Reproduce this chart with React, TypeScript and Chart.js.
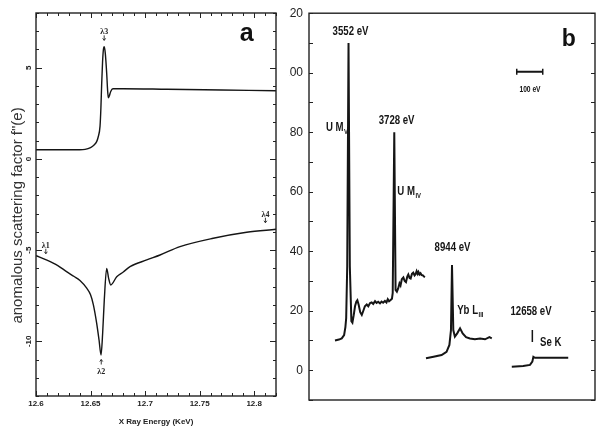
import React, { useEffect, useRef } from "react";
import { Chart, registerables } from "chart.js";

Chart.register(...registerables);

// ---------------- Panel a data ----------------
const A_X_TICKS = [12.6, 12.65, 12.7, 12.75, 12.8];
const A_X_TICK_LABELS = ["12.6", "12.65", "12.7", "12.75", "12.8"];
const A_Y_TICKS = [5, 0, -5, -10];
const A_Y_TICK_LABELS = ["5", "0", "-5", "-10"];
const A_TITLE_Y = 'anomalous scattering factor f"(e)';
const A_TITLE_X = "X Ray Energy (KeV)";

// f'' (upper curve)
const F2_X = [12.6, 12.62, 12.64, 12.645, 12.65, 12.653, 12.6556, 12.657, 12.6587, 12.6595, 12.6602, 12.661, 12.6618, 12.6626, 12.6635, 12.6648, 12.6656, 12.6663, 12.6672, 12.6685, 12.6705, 12.68, 12.72, 12.77, 12.82];
const F2_Y = [0.5, 0.5, 0.5, 0.52, 0.62, 0.75, 0.95, 1.2, 1.8, 2.8, 4.1, 5.3, 6.0, 6.15, 5.8, 4.7, 3.8, 3.35, 3.45, 3.7, 3.85, 3.85, 3.82, 3.78, 3.74];

// f' (lower curve)
const F1_X = [12.6, 12.61, 12.62, 12.628, 12.635, 12.6403, 12.6465, 12.65, 12.6526, 12.6556, 12.6578, 12.6596, 12.6611, 12.6626, 12.6648, 12.6666, 12.6685, 12.674, 12.68, 12.6862, 12.7015, 12.7137, 12.732, 12.7625, 12.7931, 12.82];
const F1_Y = [-5.31, -5.55, -5.85, -6.18, -6.45, -6.67, -7.09, -7.45, -8.0, -9.0, -9.93, -10.75, -9.56, -7.73, -6.0, -6.55, -6.91, -6.46, -6.2, -5.91, -5.54, -5.27, -4.81, -4.35, -4.02, -3.86];

const LAMBDA_TEXT = ["λ1", "λ2", "λ3", "λ4"];
const LAMBDA_X = [12.609, 12.6598, 12.6625, 12.8103];
const LAMBDA_Y = [-5.2, -11.0, 6.5, -3.5];
const LAMBDA_UP = [false, true, false, false];
const A_PANEL_LETTER = "a";

// ---------------- Panel b data ----------------
const B_Y_TICKS = [0, 20, 40, 60, 80, 100, 120];
const B_Y_TICK_LABELS = ["0", "20", "40", "60", "80", "100", "120"];

// U M_V / U M_IV spectrum
const SEG_U_X = [100, 115, 126, 135, 140, 143, 147, 152, 157, 163, 167, 172, 177, 182, 186, 191, 197, 203, 209, 215, 222, 228, 235, 241, 247, 254, 260, 266, 273, 279, 285, 292, 298, 303, 308, 314, 319, 322, 328, 333, 338, 343, 348, 352, 357, 363, 368, 373, 378, 382, 387, 391, 396, 401, 406, 410, 414, 418, 421, 425, 429, 433, 438, 442, 446];
const SEG_U_Y = [10.0, 10.3, 10.7, 11.8, 14.5, 17.5, 35, 110, 35, 16.5, 16.0, 18.5, 21.5, 23.0, 23.5, 22.0, 19.5, 18.6, 20.0, 21.5, 22.1, 21.5, 22.6, 22.8, 22.3, 23.2, 22.6, 23.0, 22.5, 23.1, 22.7, 23.3, 22.8, 23.9, 23.2, 23.6, 24.0, 26, 80, 27, 26.4, 27.5, 29.2, 28.5, 30.6, 31.2, 30.0, 29.6, 31.5, 32.2, 31.0, 30.8, 32.4, 32.8, 31.9, 32.3, 33.3, 32.4, 33.0, 32.2, 32.6, 32.0, 31.9, 31.5, 31.3];

// Yb L_III spectrum
const SEG_YB_X = [450, 479, 510, 529, 540, 546, 550, 555, 561, 570, 581, 591, 604, 619, 638, 658, 677, 694, 703];
const SEG_YB_Y = [4.0, 4.55, 5.1, 6.2, 8.5, 13.5, 35.4, 13.5, 11.3, 12.4, 14.1, 12.4, 11.1, 10.7, 10.4, 10.7, 10.4, 11.1, 10.7];

// Se K edge
const SEG_SE_X = [780, 824, 850, 859, 863, 869, 997];
const SEG_SE_Y = [1.2, 1.4, 1.8, 2.9, 4.5, 4.2, 4.2];

// 12658 eV marker
const SE_MARK_X = [859, 859];
const SE_MARK_Y = [9.5, 13.5];

// 100 eV scale bar
const BAR_X = [799, 899];
const BAR_Y = [100.3, 100.3];

const B_TEXT = ["3552 eV", "3728 eV", "8944 eV", "12658 eV"];
const B_TEXT_X = [159.6, 337, 552, 854];
const B_TEXT_Y = [112.6, 82.7, 40.1, 18.6];
const BAR_TEXT = "100 eV";
const BAR_TEXT_X = 850;
const BAR_TEXT_Y = 93.6;
const B_SUB_MAIN = ["U M", "U M", "Yb L", "Se K"];
const B_SUB_SUB = ["V", "IV", "III", ""];
const B_SUB_X = [65, 339.6, 570, 888.5];
const B_SUB_Y = [80.4, 58.9, 18.9, 8];
const B_PANEL_LETTER = "b";

const pts = (xs: number[], ys: number[]) => xs.map((x, i) => ({ x, y: ys[i] }));

const INK = "#151515";
const SANS = "Arial, 'Liberation Sans', sans-serif";
const SQUEEZE = 0.74;

function hline(ctx: CanvasRenderingContext2D, x1: number, y1: number, x2: number, y2: number) {
  ctx.beginPath();
  ctx.moveTo(x1, y1);
  ctx.lineTo(x2, y2);
  ctx.stroke();
}

// draws text horizontally condensed, anchored at (x, y)
function squeezed(ctx: CanvasRenderingContext2D, text: string, x: number, y: number) {
  ctx.save();
  ctx.translate(x, y);
  ctx.scale(SQUEEZE, 1);
  ctx.fillText(text, 0, 0);
  ctx.restore();
}

const panelAPlugin = {
  id: "panelA",
  afterDraw(chart: any) {
    const { ctx, chartArea: ca, scales } = chart;
    const xs = scales.x;
    const ys = scales.y;
    ctx.save();
    ctx.strokeStyle = "#222";
    ctx.lineWidth = 1.4;
    ctx.strokeRect(ca.left, ca.top, ca.right - ca.left, ca.bottom - ca.top);
    ctx.lineWidth = 1;
    for (let i = 0; i <= 22; i++) {
      const v = 12.6 + i * 0.01;
      const px = Math.round(xs.getPixelForValue(v)) + 0.5;
      const len = i % 5 === 0 ? 5 : 3;
      hline(ctx, px, ca.bottom, px, ca.bottom - len);
      hline(ctx, px, ca.top, px, ca.top + len);
    }
    for (let v = -13; v <= 8; v++) {
      const py = Math.round(ys.getPixelForValue(v)) + 0.5;
      const len = v % 5 === 0 ? 6 : 3;
      hline(ctx, ca.left, py, ca.left + len, py);
      hline(ctx, ca.right, py, ca.right - len, py);
    }
    ctx.fillStyle = "#222";
    ctx.font = "bold 8px " + SANS;
    ctx.textAlign = "center";
    ctx.textBaseline = "middle";
    A_Y_TICKS.forEach((v, i) => {
      const py = ys.getPixelForValue(v);
      ctx.save();
      ctx.translate(ca.left - 7, py);
      ctx.rotate(-Math.PI / 2);
      ctx.fillText(A_Y_TICK_LABELS[i], 0, 0);
      ctx.restore();
    });
    ctx.save();
    ctx.font = "15px " + SANS;
    ctx.fillStyle = "#333";
    ctx.translate(18, ys.getPixelForValue(-3.1));
    ctx.rotate(-Math.PI / 2);
    ctx.textAlign = "center";
    ctx.textBaseline = "middle";
    ctx.fillText(A_TITLE_Y, 0, 0);
    ctx.restore();
    ctx.font = "bold 8px 'Liberation Serif', 'DejaVu Serif', serif";
    ctx.textAlign = "center";
    ctx.textBaseline = "alphabetic";
    ctx.fillStyle = "#222";
    ctx.lineWidth = 0.9;
    LAMBDA_TEXT.forEach((t, i) => {
      const px = xs.getPixelForValue(LAMBDA_X[i]);
      const py = ys.getPixelForValue(LAMBDA_Y[i]);
      if (LAMBDA_UP[i]) {
        hline(ctx, px, py, px, py + 5);
        ctx.beginPath();
        ctx.moveTo(px - 1.5, py + 2);
        ctx.lineTo(px, py);
        ctx.lineTo(px + 1.5, py + 2);
        ctx.stroke();
        ctx.fillText(t, px, py + 14);
      } else {
        hline(ctx, px, py, px, py - 5);
        ctx.beginPath();
        ctx.moveTo(px - 1.5, py - 2);
        ctx.lineTo(px, py);
        ctx.lineTo(px + 1.5, py - 2);
        ctx.stroke();
        ctx.fillText(t, px, py - 6);
      }
    });
    ctx.font = "bold 25px " + SANS;
    ctx.fillStyle = "#111";
    ctx.fillText(A_PANEL_LETTER, xs.getPixelForValue(12.7931), ys.getPixelForValue(6.45));
    ctx.restore();
  },
};

const panelBPlugin = {
  id: "panelB",
  afterDraw(chart: any) {
    const { ctx, chartArea: ca, scales } = chart;
    const xs = scales.x;
    const ys = scales.y;
    ctx.save();
    ctx.strokeStyle = "#222";
    ctx.lineWidth = 1.4;
    ctx.strokeRect(ca.left, ca.top, ca.right - ca.left, ca.bottom - ca.top);
    ctx.lineWidth = 1;
    for (let v = -10; v <= 120; v += 10) {
      const py = Math.round(ys.getPixelForValue(v)) + 0.5;
      hline(ctx, ca.left, py, ca.left + 4, py);
      hline(ctx, ca.right, py, ca.right - 4, py);
    }
    ctx.fillStyle = INK;
    ctx.textBaseline = "alphabetic";
    ctx.textAlign = "center";
    ctx.font = "bold 13px " + SANS;
    B_TEXT.forEach((t, i) => {
      squeezed(ctx, t, xs.getPixelForValue(B_TEXT_X[i]), ys.getPixelForValue(B_TEXT_Y[i]));
    });
    ctx.font = "bold 9px " + SANS;
    squeezed(ctx, BAR_TEXT, xs.getPixelForValue(BAR_TEXT_X), ys.getPixelForValue(BAR_TEXT_Y));
    ctx.textAlign = "left";
    B_SUB_MAIN.forEach((t, i) => {
      const px = xs.getPixelForValue(B_SUB_X[i]);
      const py = ys.getPixelForValue(B_SUB_Y[i]);
      ctx.font = "bold 13px " + SANS;
      squeezed(ctx, t, px, py);
      const w = ctx.measureText(t).width * SQUEEZE;
      if (B_SUB_SUB[i]) {
        ctx.font = "bold 8px " + SANS;
        squeezed(ctx, B_SUB_SUB[i], px + w + 0.5, py + 3);
      }
    });
    ctx.font = "bold 23px " + SANS;
    ctx.textAlign = "center";
    ctx.fillStyle = "#111";
    ctx.fillText(B_PANEL_LETTER, xs.getPixelForValue(999), ys.getPixelForValue(109));
    ctx.restore();
  },
};

export default function App() {
  const refA = useRef<HTMLCanvasElement | null>(null);
  const refB = useRef<HTMLCanvasElement | null>(null);

  useEffect(() => {
    if (!refA.current || !refB.current) return;
    const lineDs = (data: any[], width: number, smooth: boolean) => ({
      data,
      borderColor: INK,
      borderWidth: width,
      pointRadius: 0,
      fill: false,
      tension: 0,
      cubicInterpolationMode: smooth ? "monotone" : "default",
    });

    const chartA = new Chart(refA.current, {
      type: "line",
      data: {
        datasets: [
          lineDs(pts(F2_X, F2_Y), 1.4, true),
          lineDs(pts(F1_X, F1_Y), 1.4, true),
        ] as any,
      },
      options: {
        animation: false,
        responsive: false,
        events: [],
        layout: { padding: { left: 0, right: 13, top: 13, bottom: 0 } },
        plugins: { legend: { display: false }, tooltip: { enabled: false } },
        scales: {
          x: {
            type: "linear",
            min: 12.6,
            max: 12.82,
            afterBuildTicks: (s: any) => {
              s.ticks = A_X_TICKS.map((value) => ({ value }));
            },
            afterFit: (s: any) => {
              s.height = 35;
            },
            grid: { display: false, drawTicks: false },
            border: { display: false },
            ticks: {
              maxRotation: 0,
              autoSkip: false,
              padding: 3,
              color: "#222",
              font: { size: 8, weight: "bold", family: SANS },
              callback: (_v: any, i: number) => A_X_TICK_LABELS[i],
            },
            title: {
              display: true,
              text: A_TITLE_X,
              color: "#222",
              font: { size: 8, weight: "bold", family: SANS },
              padding: { top: 0, bottom: 4 },
            },
          },
          y: {
            type: "linear",
            min: -13,
            max: 8,
            afterFit: (s: any) => {
              s.width = 36;
            },
            grid: { display: false, drawTicks: false },
            border: { display: false },
            ticks: { display: false },
          },
        },
      } as any,
      plugins: [panelAPlugin],
    });

    const chartB = new Chart(refB.current, {
      type: "line",
      data: {
        datasets: [
          lineDs(pts(SEG_U_X, SEG_U_Y), 2, false),
          lineDs(pts(SEG_YB_X, SEG_YB_Y), 2, false),
          lineDs(pts(SEG_SE_X, SEG_SE_Y), 2, false),
          lineDs(pts(SE_MARK_X, SE_MARK_Y), 1.5, false),
          {
            ...lineDs(pts(BAR_X, BAR_Y), 2, false),
            pointRadius: 3,
            pointStyle: "line",
            rotation: 90,
            pointBorderColor: INK,
            pointBorderWidth: 1.5,
          },
        ] as any,
      },
      options: {
        animation: false,
        responsive: false,
        events: [],
        layout: { padding: { left: 0, right: 8, top: 13, bottom: 31 } },
        plugins: { legend: { display: false }, tooltip: { enabled: false } },
        scales: {
          x: { type: "linear", min: 0, max: 1100, display: false },
          y: {
            type: "linear",
            min: -10,
            max: 120,
            afterBuildTicks: (s: any) => {
              s.ticks = B_Y_TICKS.map((value) => ({ value }));
            },
            afterFit: (s: any) => {
              s.width = 20;
            },
            grid: { display: false, drawTicks: false },
            border: { display: false },
            ticks: {
              padding: 6,
              color: "#222",
              font: { size: 12, family: SANS },
              callback: (_v: any, i: number) => B_Y_TICK_LABELS[i],
            },
          },
        },
      } as any,
      plugins: [panelBPlugin],
    });

    return () => {
      chartA.destroy();
      chartB.destroy();
    };
  }, []);

  return (
    <div style={{ position: "fixed", left: 0, top: 0, width: 603, height: 431, background: "#fff", overflow: "hidden" }}>
      <canvas ref={refA} width={289} height={431} style={{ position: "absolute", left: 0, top: 0, width: 289, height: 431 }} />
      <canvas ref={refB} width={314} height={431} style={{ position: "absolute", left: 289, top: 0, width: 314, height: 431 }} />
    </div>
  );
}
